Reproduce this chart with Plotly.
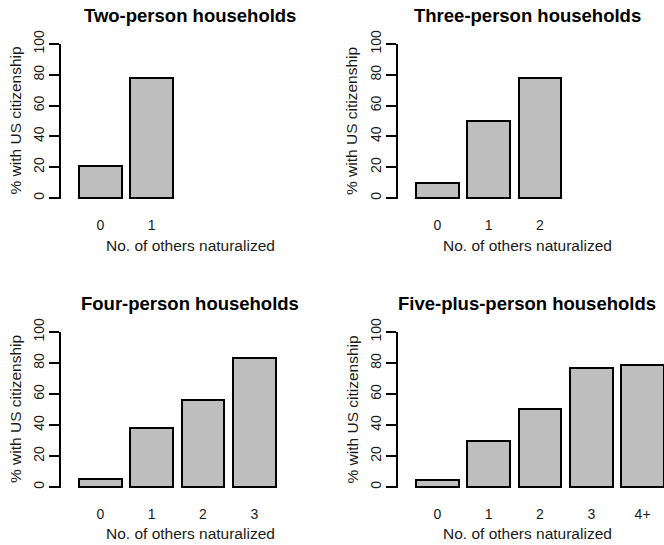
import plotly.graph_objects as go

W, H = 664, 545

# Panel titles and data: % of immigrants with US citizenship by number of
# other naturalized household members
titles = [
    "Two-person households",
    "Three-person households",
    "Four-person households",
    "Five-plus-person households",
]
cats_two = ["0", "1"]
vals_two = [21, 78]
cats_three = ["0", "1", "2"]
vals_three = [9.5, 50, 78]
cats_four = ["0", "1", "2", "3"]
vals_four = [5, 38, 56, 83]
cats_five = ["0", "1", "2", "3", "4+"]
vals_five = [4.5, 30, 50.5, 77, 79]

y_ticks = [0, 20, 40, 60, 80, 100]
x_label = "No. of others naturalized"
y_label = "% with US citizenship"

series = [(cats_two, vals_two), (cats_three, vals_three),
          (cats_four, vals_four), (cats_five, vals_five)]

FONT = "Liberation Sans, Arial, Helvetica, sans-serif"
BAR_FILL = "#bebebe"
INK = "#000000"
TEXT = "#1a1a1a"

# Pixel frame of each panel: y-axis position, right edge, y of 100 and of 0
frames = [
    dict(left=61, right=315, top=44, zero=198, tcx=190, tcy=15, xlab=245.5, ylab=15.5),
    dict(left=398, right=664, top=44, zero=198, tcx=527, tcy=15, xlab=245.5, ylab=352),
    dict(left=61, right=315, top=332, zero=487, tcx=190, tcy=303.5, xlab=533.5, ylab=15.5),
    dict(left=398, right=664, top=332, zero=487, tcx=527, tcy=303.5, xlab=533.5, ylab=352),
]

BAR_PX = 42.75          # pixels per bar-width unit
AXIS_GAP = 9.45         # gap between y-axis line and x = 0, in pixels


def bar_centers(n, width=1.0, space=0.2):
    return [space + width / 2 + i * (width + space) for i in range(n)]


fig = go.Figure()
annotations = []

for i, ((cats, vals), fr, title) in enumerate(zip(series, frames, titles)):
    k = "" if i == 0 else str(i + 1)
    xa, ya = "x" + k, "y" + k
    centers = bar_centers(len(cats))
    fig.add_trace(go.Bar(
        x=centers, y=vals, width=1.0,
        marker=dict(color=BAR_FILL, line=dict(color=INK, width=2)),
        xaxis=xa, yaxis=ya, showlegend=False, hoverinfo="skip",
    ))

    ppu = (fr["zero"] - fr["top"]) / 100.0
    x0 = -AXIS_GAP / BAR_PX
    x1 = (fr["right"] - fr["left"] - AXIS_GAP) / BAR_PX
    fig.layout["xaxis" + k] = dict(
        domain=[fr["left"] / W, fr["right"] / W],
        range=[x0, x1], anchor=ya, automargin=False,
        tickvals=centers, ticktext=cats, ticks="",
        showline=False, showgrid=False, zeroline=False,
        tickfont=dict(family=FONT, size=14, color=TEXT),
        ticklabelstandoff=16,
    )
    fig.layout["yaxis" + k] = dict(
        domain=[1 - (fr["zero"] + 1) / H, 1 - fr["top"] / H],
        range=[-1.0 / ppu, 100], anchor=xa, automargin=False,
        tickvals=y_ticks, ticks="outside", ticklen=10, tickwidth=1.5,
        tickcolor=INK, showline=True, linewidth=1.5, linecolor=INK,
        showgrid=False, zeroline=False, tickangle=-90,
        tickfont=dict(family=FONT, size=14, color=TEXT),
    )

    annotations.append(dict(
        text="<b>%s</b>" % title, xref="paper", yref="paper",
        x=fr["tcx"] / W, y=1 - fr["tcy"] / H, xanchor="center", yanchor="middle",
        showarrow=False, font=dict(family=FONT, size=18.5, color=INK),
    ))
    annotations.append(dict(
        text=x_label, xref="paper", yref="paper",
        x=fr["tcx"] / W, y=1 - fr["xlab"] / H, xanchor="center", yanchor="middle",
        showarrow=False, font=dict(family=FONT, size=15.5, color=TEXT),
    ))
    mid = (fr["zero"] + fr["top"]) / 2.0
    annotations.append(dict(
        text=y_label, xref="paper", yref="paper", textangle=-90,
        x=fr["ylab"] / W, y=1 - mid / H, xanchor="center", yanchor="middle",
        showarrow=False, font=dict(family=FONT, size=15.5, color=TEXT),
    ))

fig.update_layout(
    template="none",
    width=W, height=H,
    margin=dict(l=0, r=0, t=0, b=0, pad=0),
    paper_bgcolor="white", plot_bgcolor="white",
    bargap=0, annotations=annotations,
)

fig.write_html("out.html")
